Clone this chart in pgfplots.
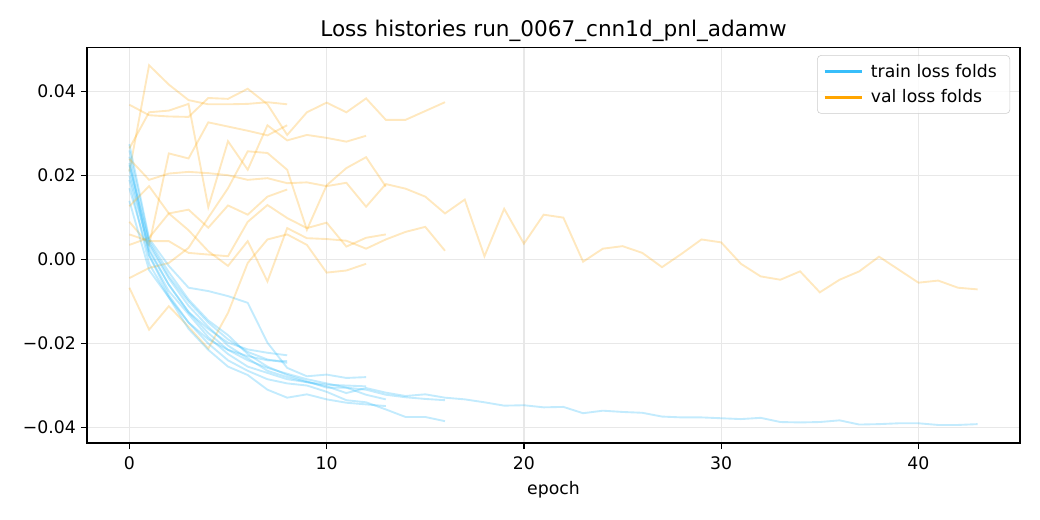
\documentclass[border=0pt]{standalone}
\usepackage{pgfplots}
\pgfplotsset{compat=1.18}
\usepackage{fontspec}
\setmainfont{DejaVu Sans}
\definecolor{trainc}{RGB}{56,190,250}
\definecolor{valc}{RGB}{255,165,0}
\definecolor{gridc}{RGB}{232,232,232}
\definecolor{legc}{RGB}{204,204,204}
\pgfplotsset{table/tbl/.style={header=false, x expr=\coordindex, y index=0, row sep=\\}}
\begin{document}
\begin{tikzpicture}
\useasboundingbox (-60.2bp,-53.3bp) rectangle (659.8bp,306.7bp);
\begin{axis}[
 at={(0,0)}, anchor=south west,
 scale only axis, width=646bp, height=274bp,
 xmin=-2.15, xmax=45.15, ymin=-0.0437, ymax=0.0506,
 xtick={0,10,20,30,40}, xticklabels={0,10,20,30,40},
 ytick={-0.04,-0.02,0,0.02,0.04},
 yticklabels={−0.04,−0.02,0.00,0.02,0.04},
 scaled y ticks=false,
 xtick pos=bottom, ytick pos=left,
 tick align=outside, major tick length=4.2bp,
 tick style={black, line width=0.96bp},
 axis line style={line width=0.96bp},
 grid=major, major grid style={gridc, line width=0.96bp},
 ticklabel style={font=\fontsize{12}{14}\selectfont},
 xticklabel style={yshift=-2bp},
 xlabel={epoch}, xlabel style={font=\fontsize{12}{14}\selectfont, yshift=-1bp},
 title={Loss histories run\_0067\_cnn1d\_pnl\_adamw},
 title style={font=\fontsize{15}{18}\selectfont, anchor=south, inner sep=0pt, yshift=-2.5bp},
 legend style={at={(1,1)}, anchor=north east, xshift=-6.9bp, yshift=-5.5bp,
   draw=legc, rounded corners=2.5bp, font=\fontsize{12}{14}\selectfont,
   fill=white, fill opacity=0.8, text opacity=1, row sep=3bp, inner xsep=4bp, inner ysep=4bp,
   nodes={inner xsep=5bp}},
 legend cell align=left,
 legend image code/.code={\draw[#1] (0bp,0bp) -- (26bp,0bp);},
 trainl/.style={trainc, opacity=0.3, line width=1.3bp, forget plot},
 vall/.style={valc, opacity=0.25, line width=1.3bp, forget plot},
]
% fold 1 (9 epochs)
\addplot[trainl] table[tbl] {0.0215\\0.0020\\-0.0060\\-0.0125\\-0.0165\\-0.0198\\-0.0214\\-0.0222\\-0.0228\\};
\addplot[vall] table[tbl] {0.0210\\0.0463\\0.0417\\0.0380\\0.0370\\0.0370\\0.0371\\0.0375\\0.0370\\};
% fold 2
\addplot[trainl] table[tbl] {0.0225\\0.0040\\-0.0040\\-0.0100\\-0.0150\\-0.0190\\-0.0220\\-0.0238\\-0.0246\\};
\addplot[vall] table[tbl] {0.0090\\0.0035\\0.0253\\0.0241\\0.0327\\0.0317\\0.0307\\0.0296\\0.0320\\};
% fold 3
\addplot[trainl] table[tbl] {0.0140\\-0.0025\\-0.0090\\-0.0150\\-0.0190\\-0.0215\\-0.0230\\-0.0240\\-0.0242\\};
\addplot[vall] table[tbl] {0.0035\\0.0052\\0.0110\\0.0119\\0.0076\\0.0129\\0.0107\\0.0150\\0.0167\\};
% fold 4 (13 epochs)
\addplot[trainl] table[tbl] {0.0275\\0.0050\\-0.0015\\-0.0067\\-0.0075\\-0.0087\\-0.0103\\-0.0198\\-0.0258\\-0.0278\\-0.0274\\-0.0282\\-0.0280\\};
\addplot[vall] table[tbl] {0.0265\\0.0351\\0.0355\\0.0371\\0.0125\\0.0282\\0.0214\\0.0320\\0.0284\\0.0297\\0.0290\\0.0281\\0.0295\\};
% fold 5
\addplot[trainl] table[tbl] {0.0170\\0.0010\\-0.0075\\-0.0130\\-0.0185\\-0.0225\\-0.0255\\-0.0270\\-0.0285\\-0.0292\\-0.0298\\-0.0300\\-0.0302\\};
\addplot[vall] table[tbl] {-0.0067\\-0.0167\\-0.0111\\-0.0160\\-0.0212\\-0.0127\\-0.0008\\0.0048\\0.0060\\0.0035\\-0.0031\\-0.0026\\-0.0010\\};
% fold 6 (14 epochs)
\addplot[trainl] table[tbl] {0.0190\\-0.0010\\-0.0090\\-0.0165\\-0.0215\\-0.0255\\-0.0275\\-0.0310\\-0.0329\\-0.0321\\-0.0333\\-0.0341\\-0.0345\\-0.0349\\};
\addplot[vall] table[tbl] {-0.0044\\-0.0020\\-0.0008\\0.0028\\0.0100\\0.0170\\0.0258\\0.0254\\0.0214\\0.0071\\0.0177\\0.0218\\0.0244\\0.0174\\};
% fold 7
\addplot[trainl] table[tbl] {0.0260\\0.0045\\-0.0030\\-0.0095\\-0.0145\\-0.0180\\-0.0225\\-0.0255\\-0.0275\\-0.0290\\-0.0305\\-0.0305\\-0.0322\\-0.0333\\};
\addplot[vall] table[tbl] {0.0060\\0.0044\\0.0044\\0.0016\\0.0012\\0.0008\\0.0090\\0.0130\\0.0099\\0.0075\\0.0088\\0.0031\\0.0052\\0.0060\\};
% fold 8 (17 epochs)
\addplot[trainl] table[tbl] {0.0200\\0.0025\\-0.0060\\-0.0125\\-0.0175\\-0.0215\\-0.0240\\-0.0258\\-0.0272\\-0.0285\\-0.0295\\-0.0305\\-0.0310\\-0.0322\\-0.0328\\-0.0332\\-0.0335\\};
\addplot[vall] table[tbl] {0.0369\\0.0344\\0.0341\\0.0340\\0.0385\\0.0383\\0.0407\\0.0370\\0.0297\\0.0351\\0.0374\\0.0351\\0.0384\\0.0333\\0.0333\\0.0354\\0.0375\\};
% fold 9
\addplot[trainl] table[tbl] {0.0245\\0.0010\\-0.0085\\-0.0150\\-0.0200\\-0.0240\\-0.0265\\-0.0285\\-0.0295\\-0.0300\\-0.0315\\-0.0335\\-0.0340\\-0.0357\\-0.0375\\-0.0375\\-0.0385\\};
\addplot[vall] table[tbl] {0.0127\\0.0175\\0.0110\\0.0070\\0.0020\\-0.0015\\0.0044\\-0.0052\\0.0075\\0.0051\\0.0049\\0.0045\\0.0026\\0.0048\\0.0066\\0.0078\\0.0021\\};
% fold 10 (44 epochs)
\addplot[trainl] table[tbl] {0.0230\\0.0035\\-0.0045\\-0.0110\\-0.0160\\-0.0205\\-0.0235\\-0.0265\\-0.0280\\-0.0292\\-0.0302\\-0.0318\\-0.0306\\-0.0317\\-0.0325\\-0.0321\\-0.0329\\-0.0333\\-0.0340\\-0.0348\\-0.0347\\-0.0352\\-0.0351\\-0.0366\\-0.0360\\-0.0363\\-0.0365\\-0.0374\\-0.0376\\-0.0376\\-0.0378\\-0.0380\\-0.0377\\-0.0387\\-0.0388\\-0.0387\\-0.0383\\-0.0393\\-0.0392\\-0.0390\\-0.0390\\-0.0394\\-0.0394\\-0.0392\\};
\addplot[vall] table[tbl] {0.0240\\0.0190\\0.0205\\0.0209\\0.0206\\0.0201\\0.0190\\0.0194\\0.0182\\0.0184\\0.0175\\0.0183\\0.0126\\0.0180\\0.0169\\0.0150\\0.0110\\0.0143\\0.0008\\0.0121\\0.0038\\0.0107\\0.0100\\-0.0005\\0.0026\\0.0032\\0.0016\\-0.0018\\0.0014\\0.0048\\0.0041\\-0.0010\\-0.0040\\-0.0048\\-0.0028\\-0.0078\\-0.0048\\-0.0028\\0.0007\\-0.0024\\-0.0055\\-0.0050\\-0.0067\\-0.0071\\};
\addlegendimage{trainc, line width=2bp}
\addlegendentry{train loss folds}
\addlegendimage{valc, line width=2bp}
\addlegendentry{val loss folds}
\end{axis}
\end{tikzpicture}
\end{document}
